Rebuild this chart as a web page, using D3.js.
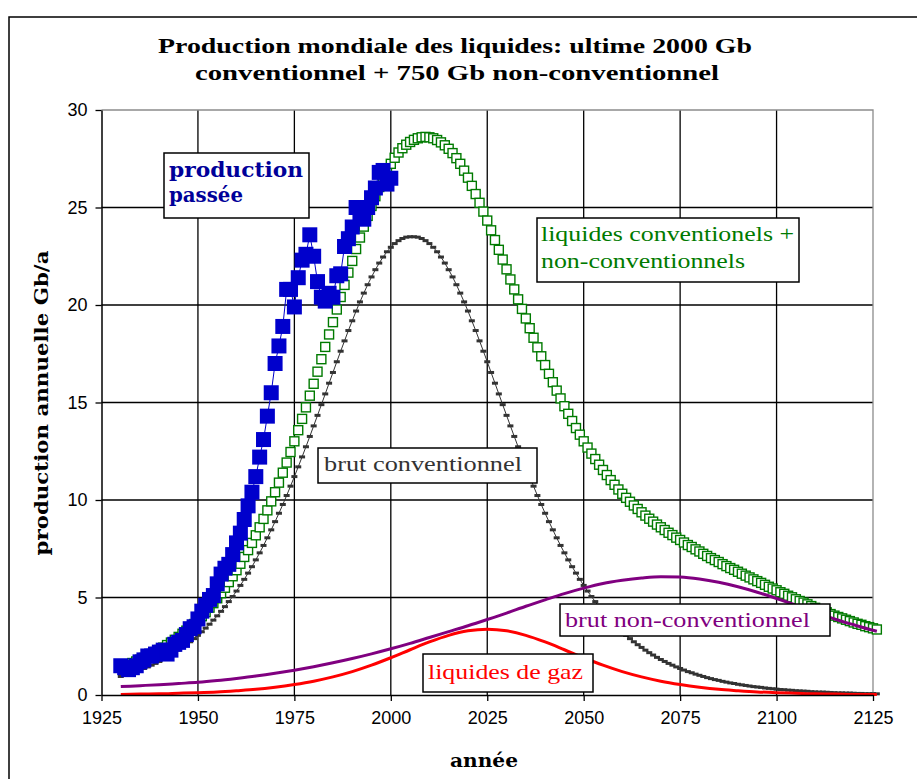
<!DOCTYPE html>
<html>
<head>
<meta charset="utf-8">
<script src="https://cdn.jsdelivr.net/npm/d3@7"></script>
<style>
  body { margin: 0; background: #fff; }
</style>
</head>
<body>
<svg id="chart" width="917" height="779"></svg>
<script>
// --- donnees ---
var xTicks = [1925, 1950, 1975, 2000, 2025, 2050, 2075, 2100, 2125];
var yTicks = [0, 5, 10, 15, 20, 25, 30];

// production passee (Gb/a), 1930 -> 2000
var pastStart = 1930;
var pastValues = [1.5,1.4,1.3,1.4,1.5,1.7,1.8,2.0,2.0,2.1,
  2.2,2.3,2.1,2.3,2.6,2.7,2.8,3.1,3.4,3.5,
  3.9,4.3,4.6,4.9,5.1,5.7,6.2,6.5,6.7,7.2,
  7.8,8.3,9.0,9.7,10.4,11.2,12.2,13.1,14.3,15.5,
  17.0,17.9,18.9,20.8,20.8,19.9,21.4,22.3,22.6,23.6,
  22.5,21.2,20.4,20.2,20.6,20.4,21.5,21.6,23.0,23.4,
  24.0,25.0,24.6,24.4,25.0,25.5,26.0,26.8,26.9,26.2,
  26.5];

// modele annuel 1930 -> 2126
var modelStart = 1930;
var brutConv = [0.95,1.01,1.07,1.14,1.20,1.28,1.36,1.44,1.53,1.62,
  1.72,1.82,1.93,2.05,2.17,2.30,2.44,2.58,2.73,2.89,
  3.06,3.24,3.43,3.63,3.84,4.06,4.29,4.53,4.79,5.05,
  5.33,5.62,5.93,6.25,6.58,6.93,7.29,7.67,8.06,8.47,
  8.89,9.32,9.77,10.23,10.71,11.20,11.70,12.21,12.73,13.26,
  13.80,14.34,14.89,15.44,15.99,16.54,17.09,17.63,18.16,18.69,
  19.19,19.69,20.16,20.61,21.04,21.44,21.81,22.15,22.46,22.73,
  22.96,23.15,23.30,23.41,23.48,23.50,23.50,23.48,23.41,23.30,
  23.15,22.96,22.73,22.46,22.15,21.81,21.44,21.04,20.61,20.16,
  19.69,19.19,18.69,18.16,17.63,17.09,16.54,15.99,15.44,14.89,
  14.34,13.80,13.26,12.73,12.21,11.70,11.20,10.71,10.23,9.77,
  9.32,8.89,8.47,8.06,7.67,7.29,6.93,6.58,6.25,5.93,
  5.62,5.33,5.05,4.79,4.53,4.29,4.06,3.84,3.63,3.43,
  3.24,3.06,2.89,2.73,2.58,2.44,2.30,2.17,2.05,1.93,
  1.82,1.72,1.62,1.53,1.44,1.36,1.28,1.20,1.14,1.07,
  1.01,0.95,0.89,0.84,0.79,0.75,0.70,0.66,0.62,0.59,
  0.55,0.52,0.49,0.46,0.43,0.41,0.39,0.36,0.34,0.32,
  0.30,0.28,0.27,0.25,0.24,0.22,0.21,0.20,0.19,0.17,
  0.16,0.15,0.15,0.14,0.13,0.12,0.11,0.11,0.10,0.10,
  0.09,0.08,0.08,0.07,0.07,0.07,0.06];

var liquidesTotal = [1.41,1.48,1.56,1.64,1.72,1.81,1.90,1.99,2.10,2.20,
  2.31,2.43,2.56,2.69,2.83,2.98,3.14,3.30,3.46,3.64,
  3.83,4.04,4.25,4.48,4.71,4.96,5.22,5.50,5.79,6.09,
  6.40,6.73,7.08,7.43,7.80,8.19,8.60,9.03,9.47,9.93,
  10.40,10.89,11.40,11.92,12.46,13.01,13.58,14.16,14.75,15.35,
  15.96,16.58,17.22,17.85,18.49,19.12,19.77,20.41,21.03,21.66,
  22.26,22.87,23.46,24.02,24.57,25.08,25.58,26.05,26.48,26.88,
  27.24,27.55,27.82,28.04,28.22,28.36,28.47,28.55,28.60,28.62,
  28.60,28.55,28.46,28.34,28.19,28.01,27.79,27.53,27.24,26.89,
  26.53,26.11,25.69,25.24,24.79,24.33,23.83,23.33,22.83,22.33,
  21.83,21.31,20.80,20.29,19.80,19.31,18.81,18.32,17.83,17.37,
  16.92,16.47,16.04,15.61,15.21,14.81,14.42,14.05,13.69,13.35,
  13.01,12.69,12.38,12.10,11.81,11.54,11.28,11.02,10.78,10.54,
  10.32,10.11,9.91,9.72,9.54,9.37,9.20,9.04,8.89,8.74,
  8.60,8.46,8.32,8.20,8.07,7.95,7.82,7.69,7.59,7.47,
  7.36,7.24,7.13,7.02,6.92,6.82,6.71,6.61,6.51,6.42,
  6.32,6.22,6.12,6.03,5.93,5.84,5.75,5.65,5.55,5.46,
  5.37,5.27,5.19,5.09,5.01,4.91,4.82,4.74,4.65,4.56,
  4.47,4.39,4.32,4.24,4.15,4.07,4.00,3.93,3.86,3.79,
  3.72,3.65,3.60,3.53,3.48,3.42,3.36];

// courbes lisses, tous les 5 ans
var lineYears = [1930,1935,1940,1945,1950,1955,1960,1965,1970,1975,
  1980,1985,1990,1995,2000,2005,2010,2015,2020,2025,
  2030,2035,2040,2045,2050,2055,2060,2065,2070,2075,
  2080,2085,2090,2095,2100,2105,2110,2115,2120,2125,2126];
var brutNonConv = [0.43,0.48,0.53,0.59,0.65,0.74,0.85,0.97,1.11,1.27,
  1.45,1.65,1.87,2.11,2.37,2.65,2.95,3.25,3.55,3.87,
  4.20,4.55,4.88,5.20,5.48,5.72,5.88,6.00,6.07,6.05,
  5.95,5.78,5.55,5.27,4.95,4.60,4.25,3.90,3.60,3.32,3.27];
var liquidesGaz = [0.03,0.05,0.06,0.09,0.12,0.16,0.22,0.29,0.40,0.54,
  0.71,0.93,1.20,1.53,1.91,2.32,2.72,3.06,3.29,3.37,
  3.29,3.06,2.72,2.32,1.91,1.53,1.20,0.93,0.71,0.54,
  0.40,0.29,0.22,0.16,0.12,0.09,0.06,0.05,0.03,0.03,0.03];

var svg = d3.select('#chart');

var x = d3.scaleLinear().domain([1925, 2125]).range([101.5, 873]);
var y = d3.scaleLinear().domain([0, 30]).range([695, 110]);

// cadre du graphique
svg.append('rect')
  .attr('x', 9).attr('y', 17)
  .attr('width', 930).attr('height', 800)
  .attr('fill', '#fff')
  .attr('stroke', '#000')
  .attr('stroke-width', 1.5);

// titre
var title = svg.append('g')
  .attr('font-family', '"Liberation Serif", serif')
  .attr('font-weight', 'bold')
  .attr('font-size', 22)
  .attr('fill', '#000');
title.append('text').attr('x', 158).attr('y', 53)
  .attr('textLength', 594).attr('lengthAdjust', 'spacingAndGlyphs')
  .text('Production mondiale des liquides: ultime 2000 Gb');
title.append('text').attr('x', 195).attr('y', 80)
  .attr('textLength', 524).attr('lengthAdjust', 'spacingAndGlyphs')
  .text('conventionnel + 750 Gb non-conventionnel');

// grille
var grid = svg.append('g');
grid.selectAll('line.v')
  .data(xTicks.slice(1, -1))
  .join('line')
  .attr('x1', d => x(d)).attr('x2', d => x(d))
  .attr('y1', y(30)).attr('y2', y(0))
  .attr('stroke', '#000').attr('stroke-width', 1.3);
grid.selectAll('line.h')
  .data(yTicks.slice(1, -1))
  .join('line')
  .attr('x1', x(1925)).attr('x2', x(2125))
  .attr('y1', d => y(d)).attr('y2', d => y(d))
  .attr('stroke', '#000').attr('stroke-width', 1.3);
// bord haut et droit en gris
grid.append('path')
  .attr('d', 'M' + x(1925) + ',' + y(30) + 'H' + x(2125) + 'V' + y(0))
  .attr('fill', 'none').attr('stroke', '#8c8c8c').attr('stroke-width', 1.3);

var modelPts = function (arr) {
  return arr.map((v, i) => ({ year: modelStart + i, v: v }));
};
var line = d3.line().x(d => x(d.year)).y(d => y(d.v));
var smooth = d3.line().x(d => x(d.year)).y(d => y(d.v)).curve(d3.curveMonotoneX);

// liquides conventionnels + non-conventionnels : carres creux
svg.append('g').selectAll('rect')
  .data(modelPts(liquidesTotal))
  .join('rect')
  .attr('x', d => x(d.year) - 4.5)
  .attr('y', d => y(d.v) - 4.5)
  .attr('width', 9).attr('height', 9)
  .attr('fill', '#fff')
  .attr('stroke', '#007a00')
  .attr('stroke-width', 1.4);

// brut conventionnel : trait fin + tirets
var black = svg.append('g');
black.append('path')
  .datum(modelPts(brutConv))
  .attr('d', line)
  .attr('fill', 'none').attr('stroke', '#333').attr('stroke-width', 1);
black.selectAll('rect')
  .data(modelPts(brutConv))
  .join('rect')
  .attr('x', d => x(d.year) - 3)
  .attr('y', d => y(d.v) - 1.5)
  .attr('width', 6).attr('height', 3)
  .attr('fill', '#333');

// liquides de gaz
svg.append('path')
  .datum(lineYears.map((yr, i) => ({ year: yr, v: liquidesGaz[i] })))
  .attr('d', smooth)
  .attr('fill', 'none').attr('stroke', '#ff0000').attr('stroke-width', 3);

// brut non-conventionnel
svg.append('path')
  .datum(lineYears.map((yr, i) => ({ year: yr, v: brutNonConv[i] })))
  .attr('d', smooth)
  .attr('fill', 'none').attr('stroke', '#800080').attr('stroke-width', 3);

// production passee
var past = pastValues.map((v, i) => ({ year: pastStart + i, v: v }));
svg.append('path')
  .datum(past)
  .attr('d', line)
  .attr('fill', 'none').attr('stroke', '#0000cc').attr('stroke-width', 1);
svg.append('g').selectAll('rect')
  .data(past)
  .join('rect')
  .attr('x', d => x(d.year) - 7.5)
  .attr('y', d => y(d.v) - 7.5)
  .attr('width', 15).attr('height', 15)
  .attr('fill', '#0000cc');

// axes
var yAxis = svg.append('g')
  .attr('transform', 'translate(' + x(1925) + ',0)')
  .call(d3.axisLeft(y).tickValues(yTicks).tickSize(6).tickSizeOuter(0).tickPadding(8));
var xAxis = svg.append('g')
  .attr('transform', 'translate(0,' + y(0) + ')')
  .call(d3.axisBottom(x).tickValues(xTicks).tickFormat(d3.format('d')).tickSize(6).tickSizeOuter(0).tickPadding(10));
[xAxis, yAxis].forEach(function (ax) {
  ax.select('.domain').attr('stroke', '#000').attr('stroke-width', 1.5);
  ax.selectAll('.tick line').attr('stroke', '#000').attr('stroke-width', 1.3);
  ax.selectAll('text')
    .attr('font-family', '"Liberation Sans", Arial, sans-serif')
    .attr('font-size', 18)
    .attr('fill', '#000');
});

// titres des axes
svg.append('text')
  .attr('x', 484).attr('y', 767)
  .attr('text-anchor', 'middle')
  .attr('font-family', '"DejaVu Serif", serif')
  .attr('font-weight', 'bold')
  .attr('font-size', 19)
  .attr('textLength', 68).attr('lengthAdjust', 'spacingAndGlyphs')
  .text('année');
svg.append('text')
  .attr('transform', 'translate(48,403) rotate(-90)')
  .attr('text-anchor', 'middle')
  .attr('font-family', '"DejaVu Serif", serif')
  .attr('font-weight', 'bold')
  .attr('font-size', 19)
  .attr('textLength', 305).attr('lengthAdjust', 'spacingAndGlyphs')
  .text('production annuelle Gb/a');

// etiquettes encadrees
var labels = [
  { box: [164, 153, 145, 65], color: '#000099', bold: true,
    lines: [['production', 169, 177, 134], ['passée', 169, 202, 74]] },
  { box: [537, 218, 262, 64], color: '#007a00',
    lines: [['liquides conventionels +', 541, 241, 253], ['non-conventionnels', 541, 268, 204]] },
  { box: [318, 448, 219, 35], color: '#333333',
    lines: [['brut conventionnel', 324, 471, 198]] },
  { box: [560, 604, 270, 32], color: '#800080',
    lines: [['brut non-conventionnel', 565, 627, 245]] },
  { box: [423, 654, 170, 38], color: '#ff0000',
    lines: [['liquides de gaz', 428, 679, 155]] }
];
labels.forEach(function (l) {
  var g = svg.append('g');
  g.append('rect')
    .attr('x', l.box[0]).attr('y', l.box[1])
    .attr('width', l.box[2]).attr('height', l.box[3])
    .attr('fill', '#fff').attr('stroke', '#000').attr('stroke-width', 1.5);
  l.lines.forEach(function (t) {
    g.append('text')
      .attr('x', t[1]).attr('y', t[2])
      .attr('font-family', l.bold ? '"DejaVu Serif", serif' : '"Liberation Serif", serif')
      .attr('font-weight', l.bold ? 'bold' : 'normal')
      .attr('font-size', l.bold ? 20 : 22)
      .attr('fill', l.color)
      .attr('textLength', t[3]).attr('lengthAdjust', 'spacingAndGlyphs')
      .text(t[0]);
  });
});
</script>
</body>
</html>
